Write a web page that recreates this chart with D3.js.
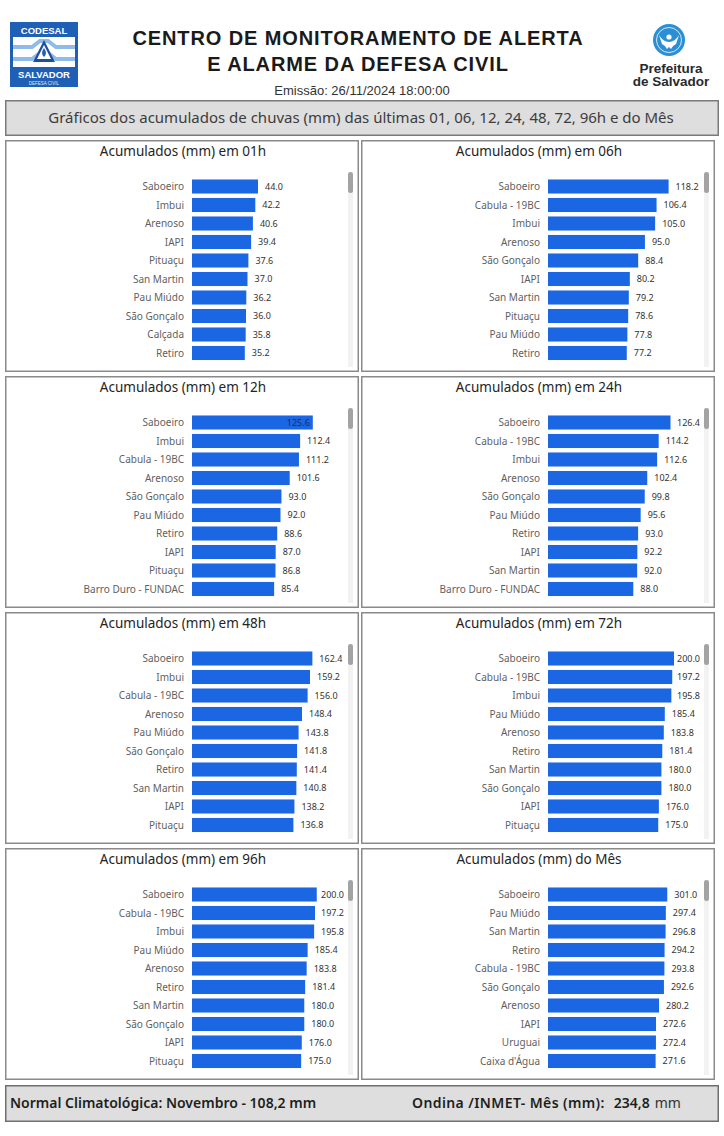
<!DOCTYPE html>
<html>
<head>
<meta charset="utf-8">
<script src="https://cdn.jsdelivr.net/npm/d3@7"></script>
<style>
  body { margin: 0; background: #fff; }
  svg { display: block; }
</style>
</head>
<body>
<svg id="chart"></svg>
<script>
// acumulados por estacao, cada grafico
var cat01h = ["Saboeiro", "Imbui", "Arenoso", "IAPI", "Pituaçu", "San Martin", "Pau Miúdo", "São Gonçalo", "Calçada", "Retiro"];
var val01h = [44.0, 42.2, 40.6, 39.4, 37.6, 37.0, 36.2, 36.0, 35.8, 35.2];

var cat06h = ["Saboeiro", "Cabula - 19BC", "Imbui", "Arenoso", "São Gonçalo", "IAPI", "San Martin", "Pituaçu", "Pau Miúdo", "Retiro"];
var val06h = [118.2, 106.4, 105.0, 95.0, 88.4, 80.2, 79.2, 78.6, 77.8, 77.2];

var cat12h = ["Saboeiro", "Imbui", "Cabula - 19BC", "Arenoso", "São Gonçalo", "Pau Miúdo", "Retiro", "IAPI", "Pituaçu", "Barro Duro - FUNDAC"];
var val12h = [125.6, 112.4, 111.2, 101.6, 93.0, 92.0, 88.6, 87.0, 86.8, 85.4];

var cat24h = ["Saboeiro", "Cabula - 19BC", "Imbui", "Arenoso", "São Gonçalo", "Pau Miúdo", "Retiro", "IAPI", "San Martin", "Barro Duro - FUNDAC"];
var val24h = [126.4, 114.2, 112.6, 102.4, 99.8, 95.6, 93.0, 92.2, 92.0, 88.0];

var cat48h = ["Saboeiro", "Imbui", "Cabula - 19BC", "Arenoso", "Pau Miúdo", "São Gonçalo", "Retiro", "San Martin", "IAPI", "Pituaçu"];
var val48h = [162.4, 159.2, 156.0, 148.4, 143.8, 141.8, 141.4, 140.8, 138.2, 136.8];

var cat72h = ["Saboeiro", "Cabula - 19BC", "Imbui", "Pau Miúdo", "Arenoso", "Retiro", "San Martin", "São Gonçalo", "IAPI", "Pituaçu"];
var val72h = [200.0, 197.2, 195.8, 185.4, 183.8, 181.4, 180.0, 180.0, 176.0, 175.0];

var cat96h = ["Saboeiro", "Cabula - 19BC", "Imbui", "Pau Miúdo", "Arenoso", "Retiro", "San Martin", "São Gonçalo", "IAPI", "Pituaçu"];
var val96h = [200.0, 197.2, 195.8, 185.4, 183.8, 181.4, 180.0, 180.0, 176.0, 175.0];

var catMes = ["Saboeiro", "Pau Miúdo", "San Martin", "Retiro", "Cabula - 19BC", "São Gonçalo", "Arenoso", "IAPI", "Uruguai", "Caixa d'Água"];
var valMes = [301.0, 297.4, 296.8, 294.2, 293.8, 292.6, 280.2, 272.6, 272.4, 271.6];

var panelTitles = ["Acumulados (mm) em 01h", "Acumulados (mm) em 06h", "Acumulados (mm) em 12h", "Acumulados (mm) em 24h",
                   "Acumulados (mm) em 48h", "Acumulados (mm) em 72h", "Acumulados (mm) em 96h", "Acumulados (mm) do Mês"];
// maximo do eixo (oculto) de cada grafico
var axisMax = [84, 123.5, 131, 130, 170, 200, 202, 318];

var emissao = "26/11/2024 18:00:00";
var normalNovembro = "108,2";
var ondinaMes = "234,8";

var cats = [cat01h, cat06h, cat12h, cat24h, cat48h, cat72h, cat96h, catMes];
var vals = [val01h, val06h, val12h, val24h, val48h, val72h, val96h, valMes];

var W = 724, H = 1136;
var font = "'Noto Sans', 'Open Sans', sans-serif";
var blue = "#1b66e3";

var svg = d3.select("#chart").attr("width", W).attr("height", H);
svg.append("rect").attr("width", W).attr("height", H).attr("fill", "#fff");

// ---- cabecalho ----
var logo = svg.append("g").attr("transform", "translate(10,22)");
logo.append("rect").attr("width", 68).attr("height", 65).attr("fill", "#1f60b6");
logo.append("rect").attr("x", 3).attr("y", 15).attr("width", 62).attr("height", 30).attr("fill", "#fff");
logo.append("path").attr("d", "M3,25 L22,25 L30,19 L38,19 L46,25 L65,25")
  .attr("fill", "none").attr("stroke", "#8fbbea").attr("stroke-width", 4);
logo.append("path").attr("d", "M3,37 L22,37 L30,31 L38,31 L46,37 L65,37")
  .attr("fill", "none").attr("stroke", "#8fbbea").attr("stroke-width", 4);
logo.append("path").attr("d", "M34,18 L23,40 L45,40 Z").attr("fill", "#1f4f9c");
logo.append("path").attr("d", "M34,23 L27,37 L41,37 Z").attr("fill", "#fff");
logo.append("path").attr("d", "M34,26 Q38,32 34,35 Q30,32 34,26 Z").attr("fill", "#1f60b6");
logo.append("text").attr("x", 34).attr("y", 11.5).attr("text-anchor", "middle")
  .attr("font-family", "'Liberation Sans', Arial, sans-serif").attr("font-weight", "bold")
  .attr("font-size", 9.5).attr("fill", "#fff").text("CODESAL");
logo.append("text").attr("x", 34).attr("y", 56).attr("text-anchor", "middle")
  .attr("font-family", "'Liberation Sans', Arial, sans-serif").attr("font-weight", "bold")
  .attr("font-size", 9.5).attr("fill", "#fff").text("SALVADOR");
logo.append("text").attr("x", 34).attr("y", 62.5).attr("text-anchor", "middle")
  .attr("font-family", "'Liberation Sans', Arial, sans-serif")
  .attr("font-size", 4.5).attr("fill", "#dbe8f8").text("DEFESA CIVIL");

svg.append("text").attr("x", 358).attr("y", 45).attr("text-anchor", "middle")
  .attr("font-family", "'Liberation Sans', Arial, sans-serif").attr("font-weight", "bold")
  .attr("font-size", 20).attr("letter-spacing", 0.9).attr("fill", "#1a1a1a")
  .text("CENTRO DE MONITORAMENTO DE ALERTA");
svg.append("text").attr("x", 358).attr("y", 71).attr("text-anchor", "middle")
  .attr("font-family", "'Liberation Sans', Arial, sans-serif").attr("font-weight", "bold")
  .attr("font-size", 20).attr("letter-spacing", 0.9).attr("fill", "#1a1a1a")
  .text("E ALARME DA DEFESA CIVIL");
svg.append("text").attr("x", 362).attr("y", 95).attr("text-anchor", "middle")
  .attr("font-family", "'Liberation Sans', Arial, sans-serif")
  .attr("font-size", 13).attr("fill", "#333").text("Emissão: " + emissao);

var pref = svg.append("g").attr("transform", "translate(669,40)");
pref.append("circle").attr("r", 16).attr("fill", "#2b8fd6");
pref.append("circle").attr("r", 12.5).attr("fill", "none").attr("stroke", "#fff").attr("stroke-width", 0.8);
pref.append("path").attr("d", "M-10,-5 Q-6,2 0,2 Q6,2 10,-5 L7,4 Q3,6 2,9 L0,7 L-2,9 Q-3,6 -7,4 Z").attr("fill", "#fff");
pref.append("circle").attr("cy", -3).attr("r", 2.6).attr("fill", "#fff");
svg.append("text").attr("x", 671).attr("y", 73).attr("text-anchor", "middle")
  .attr("font-family", "'Liberation Sans', Arial, sans-serif").attr("font-weight", "bold")
  .attr("font-size", 13.5).attr("fill", "#2a2a2a").text("Prefeitura");
svg.append("text").attr("x", 671).attr("y", 86).attr("text-anchor", "middle")
  .attr("font-family", "'Liberation Sans', Arial, sans-serif").attr("font-weight", "bold")
  .attr("font-size", 13.5).attr("fill", "#2a2a2a").text("de Salvador");

// faixa cinza
svg.append("rect").attr("x", 5.75).attr("y", 100.75).attr("width", 712.5).attr("height", 34.5)
  .attr("fill", "#dedede").attr("stroke", "#7a7a7a").attr("stroke-width", 1.5);
svg.append("text").attr("x", 361).attr("y", 123).attr("text-anchor", "middle")
  .attr("font-family", font).attr("font-size", 15).attr("fill", "#3c3c3c")
  .text("Gráficos dos acumulados de chuvas (mm) das últimas 01, 06, 12, 24, 48, 72, 96h e do Mês");

// ---- paineis ----
var colX = [5, 361];
var rowY = [140, 376, 612, 848];
var fmt = d3.format(".1f");

function drawPanel(i) {
  var px = colX[i % 2], py = rowY[Math.floor(i / 2)];
  var g = svg.append("g").attr("transform", "translate(" + px + "," + py + ")");
  g.append("rect").attr("x", 0.75).attr("y", 0.75).attr("width", 352.5).attr("height", 230.5)
    .attr("fill", "#fff").attr("stroke", "#8a8a8a").attr("stroke-width", 1.5);
  g.append("text").attr("x", 178).attr("y", 16).attr("text-anchor", "middle")
    .attr("font-family", font).attr("font-size", 13.5).attr("fill", "#252423").text(panelTitles[i]);

  var data = cats[i].map(function(c, k) { return { cat: c, val: vals[i][k] }; });
  var x = d3.scaleLinear().domain([0, axisMax[i]]).range([187, 313]);
  var y = d3.scaleBand().domain(cats[i]).range([37.25, 222.25]).paddingInner(0.24).paddingOuter(0.12);

  // barra de rolagem
  g.append("rect").attr("x", 343).attr("y", 32).attr("width", 5).attr("height", 195).attr("fill", "#f2f2f2");
  g.append("rect").attr("x", 343).attr("y", 32).attr("width", 5).attr("height", 21).attr("rx", 2.5).attr("fill", "#a3a3a3");

  g.selectAll("rect.bar").data(data).enter().append("rect").attr("class", "bar")
    .attr("x", x(0)).attr("y", function(d) { return y(d.cat); })
    .attr("width", function(d) { return x(d.val) - x(0); })
    .attr("height", y.bandwidth()).attr("fill", blue);

  g.selectAll("text.cat").data(data).enter().append("text").attr("class", "cat")
    .attr("x", x(0) - 8).attr("y", function(d) { return y(d.cat) + y.bandwidth() / 2; })
    .attr("dy", "0.35em").attr("text-anchor", "end")
    .attr("font-family", font).attr("font-size", 10).attr("fill", "#5f5f5f")
    .text(function(d) { return d.cat; });

  g.selectAll("text.val").data(data).enter().append("text").attr("class", "val")
    .attr("y", function(d) { return y(d.cat) + y.bandwidth() / 2; })
    .attr("dy", "0.35em")
    .attr("font-family", font).attr("font-size", 9).attr("fill", "#333")
    .text(function(d) { return fmt(d.val); })
    .each(function(d, k) {
      var t = d3.select(this), w = this.getComputedTextLength(), end = x(d.val);
      var pos = Math.min(end + 7, 339 - w);
      if ((i === 2 && k === 0) || pos < end + 2) {
        t.attr("x", end - 3).attr("text-anchor", "end").attr("fill", "#17305e");
      } else {
        t.attr("x", pos);
      }
    });
}

for (var i = 0; i < 8; i++) drawPanel(i);

// ---- rodape ----
svg.append("rect").attr("x", 5.75).attr("y", 1085.75).attr("width", 712.5).attr("height", 35.5)
  .attr("fill", "#dedede").attr("stroke", "#6f6f6f").attr("stroke-width", 1.5);
svg.append("text").attr("x", 10).attr("y", 1108)
  .attr("font-family", font).attr("font-weight", 600).attr("font-size", 14).attr("fill", "#1e1e1e")
  .text("Normal Climatológica: Novembro - " + normalNovembro + " mm");
var ond = svg.append("text").attr("x", 412).attr("y", 1108)
  .attr("font-family", font).attr("font-size", 14).attr("fill", "#1e1e1e");
ond.append("tspan").attr("font-weight", 600).attr("letter-spacing", 0.4).text("Ondina /INMET- Mês (mm):");
ond.append("tspan").attr("dx", 9).attr("font-weight", 600).text(ondinaMes);
ond.append("tspan").attr("dx", 5).attr("fill", "#333").text("mm");
</script>
</body>
</html>
